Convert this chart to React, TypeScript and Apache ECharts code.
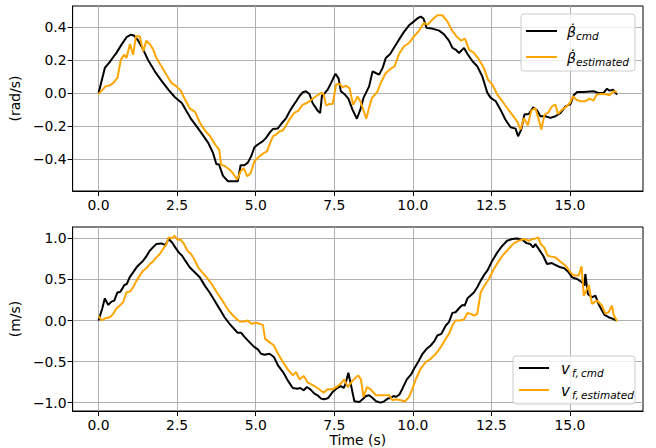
import React, { useEffect, useRef } from "react";
import * as echarts from "echarts";

// time (s), value (rad/s)
const betaCmd: number[][] = [
  [0, 0], [0.2, 0.154], [0.36, 0.19], [0.47, 0.22], [0.57, 0.245], [0.73, 0.295], [0.89, 0.34], [1.03, 0.355], [1.13, 0.35], [1.26, 0.32],
  [1.42, 0.265], [1.58, 0.2], [1.79, 0.133], [2.0, 0.077], [2.22, 0.022], [2.43, -0.024], [2.65, -0.059], [2.8, -0.109], [2.96, -0.16], [3.12, -0.2],
  [3.27, -0.24], [3.49, -0.3], [3.64, -0.36], [3.75, -0.43], [3.83, -0.43], [3.96, -0.5], [4.12, -0.533], [4.27, -0.533], [4.43, -0.533], [4.52, -0.436],
  [4.64, -0.436], [4.75, -0.42], [4.86, -0.38], [4.96, -0.327], [5.07, -0.31], [5.23, -0.29], [5.33, -0.27], [5.44, -0.24], [5.55, -0.216], [5.7, -0.214],
  [5.81, -0.186], [5.97, -0.15], [6.07, -0.113], [6.18, -0.079], [6.29, -0.048], [6.39, -0.018], [6.5, 0.006], [6.6, 0.012], [6.71, -0.004], [6.81, -0.059],
  [6.97, -0.105], [7.05, -0.12], [7.11, -0.012], [7.18, -0.004], [7.29, 0.022], [7.4, 0.063], [7.54, 0.119], [7.64, 0.089], [7.71, 0.012], [7.82, -0.004],
  [7.95, -0.032], [8.08, -0.099], [8.22, -0.154], [8.33, -0.099], [8.43, -0.028], [8.61, 0.042], [8.72, 0.133], [8.82, 0.123], [8.93, 0.113], [9.04, 0.154],
  [9.14, 0.214], [9.28, 0.238], [9.41, 0.279], [9.56, 0.325], [9.72, 0.372], [9.88, 0.412], [10.04, 0.436], [10.17, 0.457], [10.25, 0.465], [10.34, 0.453],
  [10.44, 0.396], [10.62, 0.392], [10.84, 0.38], [11.0, 0.356], [11.15, 0.319], [11.26, 0.275], [11.36, 0.265], [11.47, 0.244], [11.63, 0.275], [11.74, 0.238],
  [11.9, 0.194], [12.05, 0.164], [12.21, 0.103], [12.37, 0.004], [12.48, -0.028], [12.64, -0.048], [12.79, -0.099], [12.95, -0.16], [13.11, -0.206], [13.27, -0.214],
  [13.35, -0.26], [13.45, -0.22], [13.55, -0.129], [13.69, -0.125], [13.83, -0.085], [13.96, -0.105], [14.06, -0.139], [14.22, -0.139], [14.38, -0.149], [14.54, -0.139],
  [14.7, -0.119], [14.86, -0.079], [15.02, -0.065], [15.12, -0.012], [15.23, 0.008], [15.44, 0.008], [15.75, 0.012], [15.91, 0.002], [16.07, 0.002], [16.18, 0.028],
  [16.26, 0.016], [16.37, 0.022], [16.5, -0.008],
];

const betaEst: number[][] = [
  [0, -0.004], [0.1, 0.016], [0.22, 0.042], [0.36, 0.048], [0.47, 0.063], [0.6, 0.093], [0.71, 0.204], [0.82, 0.234], [0.89, 0.214], [1.0, 0.299],
  [1.1, 0.234], [1.19, 0.345], [1.31, 0.345], [1.42, 0.255], [1.52, 0.319], [1.63, 0.299], [1.74, 0.265], [1.84, 0.214], [2.0, 0.164], [2.16, 0.113],
  [2.32, 0.063], [2.48, 0.042], [2.62, 0.016], [2.75, -0.038], [2.91, -0.093], [3.07, -0.113], [3.23, -0.18], [3.39, -0.226], [3.55, -0.26], [3.71, -0.311],
  [3.84, -0.341], [3.9, -0.432], [4.03, -0.442], [4.17, -0.463], [4.27, -0.483], [4.41, -0.523], [4.52, -0.473], [4.62, -0.453], [4.73, -0.503], [4.84, -0.483],
  [4.96, -0.412], [5.12, -0.382], [5.26, -0.362], [5.36, -0.352], [5.44, -0.311], [5.55, -0.26], [5.65, -0.25], [5.76, -0.23], [5.86, -0.226], [5.97, -0.194],
  [6.07, -0.16], [6.23, -0.119], [6.36, -0.105], [6.5, -0.069], [6.63, -0.059], [6.78, -0.038], [6.92, -0.018], [7.08, 0.002], [7.16, -0.004], [7.24, -0.073],
  [7.35, -0.065], [7.45, -0.065], [7.56, 0.053], [7.67, 0.057], [7.77, 0.036], [7.88, 0.046], [7.99, 0.03], [8.1, -0.07], [8.24, -0.02], [8.33, -0.048],
  [8.52, -0.154], [8.62, -0.079], [8.7, -0.028], [8.87, 0.008], [8.98, 0.063], [9.14, 0.123], [9.3, 0.149], [9.42, 0.164], [9.56, 0.238], [9.72, 0.285],
  [9.88, 0.305], [10.04, 0.345], [10.2, 0.38], [10.35, 0.426], [10.48, 0.416], [10.62, 0.446], [10.78, 0.473], [10.94, 0.473], [11.1, 0.436], [11.23, 0.386],
  [11.39, 0.345], [11.54, 0.319], [11.66, 0.331], [11.79, 0.265], [11.95, 0.244], [12.11, 0.204], [12.26, 0.154], [12.39, 0.083], [12.53, 0.053], [12.69, -0.008],
  [12.85, -0.048], [13.0, -0.089], [13.16, -0.129], [13.32, -0.17], [13.43, -0.22], [13.53, -0.149], [13.66, -0.194], [13.77, -0.105], [13.9, -0.089], [14.01, -0.16],
  [14.09, -0.22], [14.19, -0.129], [14.3, -0.119], [14.43, -0.079], [14.54, -0.069], [14.62, -0.125], [14.75, -0.099], [14.86, -0.085], [15.0, -0.059], [15.1, -0.018],
  [15.2, -0.038], [15.33, -0.048], [15.49, -0.048], [15.63, -0.032], [15.75, -0.044], [15.85, -0.008], [15.98, -0.004], [16.12, -0.004], [16.26, -0.012], [16.39, 0.012],
  [16.5, 0.008],
];

// time (s), value (m/s)
const vCmd: number[][] = [
  [0, 0], [0.12, 0.15], [0.2, 0.27], [0.31, 0.19], [0.41, 0.23], [0.5, 0.243], [0.6, 0.344], [0.68, 0.344], [0.75, 0.385], [0.82, 0.433],
  [0.9, 0.445], [0.99, 0.526], [1.1, 0.587], [1.21, 0.648], [1.31, 0.688], [1.42, 0.729], [1.52, 0.781], [1.63, 0.85], [1.73, 0.891], [1.84, 0.931],
  [2.0, 0.939], [2.13, 0.919], [2.23, 0.992], [2.34, 0.951], [2.44, 0.891], [2.55, 0.83], [2.66, 0.789], [2.76, 0.729], [2.9, 0.648], [3.06, 0.587],
  [3.22, 0.526], [3.38, 0.425], [3.53, 0.344], [3.69, 0.243], [3.85, 0.142], [4.01, 0.04], [4.17, -0.04], [4.33, -0.109], [4.43, -0.15], [4.54, -0.15],
  [4.65, -0.202], [4.8, -0.263], [4.96, -0.324], [5.07, -0.352], [5.17, -0.405], [5.28, -0.417], [5.44, -0.405], [5.58, -0.445], [5.71, -0.547], [5.87, -0.628],
  [6.02, -0.729], [6.18, -0.822], [6.32, -0.83], [6.42, -0.822], [6.53, -0.85], [6.63, -0.81], [6.74, -0.838], [6.87, -0.891], [6.97, -0.911], [7.08, -0.951],
  [7.18, -0.96], [7.31, -0.943], [7.45, -0.87], [7.59, -0.822], [7.71, -0.798], [7.8, -0.822], [7.85, -0.781], [7.95, -0.636], [8.03, -0.781], [8.14, -0.984],
  [8.3, -0.992], [8.4, -0.96], [8.51, -0.919], [8.61, -0.911], [8.72, -0.943], [8.83, -0.984], [8.98, -1.0], [9.09, -0.984], [9.2, -0.951], [9.3, -0.943],
  [9.39, -0.919], [9.46, -0.931], [9.57, -0.903], [9.67, -0.83], [9.81, -0.717], [9.94, -0.66], [10.04, -0.587], [10.17, -0.506], [10.31, -0.405], [10.44, -0.344],
  [10.57, -0.304], [10.68, -0.255], [10.78, -0.182], [10.91, -0.162], [11.05, -0.061], [11.15, -0.02], [11.26, 0.093], [11.36, 0.101], [11.5, 0.162], [11.58, 0.19],
  [11.65, 0.182], [11.74, 0.271], [11.84, 0.304], [11.95, 0.344], [12.05, 0.405], [12.16, 0.486], [12.27, 0.555], [12.37, 0.607], [12.53, 0.729], [12.69, 0.83],
  [12.85, 0.911], [13.0, 0.972], [13.16, 0.992], [13.32, 1.0], [13.48, 0.984], [13.62, 0.943], [13.74, 0.931], [13.83, 0.891], [13.9, 0.931], [14.01, 0.87],
  [14.15, 0.789], [14.27, 0.688], [14.43, 0.7], [14.54, 0.676], [14.7, 0.648], [14.82, 0.636], [14.96, 0.587], [15.07, 0.526], [15.23, 0.506], [15.38, 0.466],
  [15.46, 0.425], [15.49, 0.567], [15.57, 0.324], [15.7, 0.283], [15.81, 0.304], [15.91, 0.202], [16.02, 0.121], [16.1, 0.069], [16.23, 0.04], [16.37, 0.02],
  [16.48, 0.0],
];

const vEst: number[][] = [
  [0, 0.053], [0.1, 0.0], [0.22, 0.028], [0.36, 0.04], [0.47, 0.081], [0.57, 0.15], [0.68, 0.182], [0.78, 0.223], [0.89, 0.344], [1.0, 0.352],
  [1.1, 0.405], [1.21, 0.486], [1.31, 0.547], [1.42, 0.607], [1.52, 0.636], [1.63, 0.688], [1.73, 0.717], [1.84, 0.769], [1.95, 0.81], [2.05, 0.87],
  [2.16, 0.931], [2.23, 1.012], [2.34, 1.0], [2.42, 1.032], [2.51, 0.984], [2.62, 0.984], [2.72, 0.931], [2.83, 0.85], [2.94, 0.81], [3.04, 0.749],
  [3.17, 0.648], [3.3, 0.587], [3.44, 0.526], [3.6, 0.445], [3.76, 0.344], [3.92, 0.255], [4.07, 0.162], [4.17, 0.109], [4.33, 0.04], [4.49, -0.012],
  [4.65, -0.012], [4.75, 0.0], [4.86, -0.04], [5.02, -0.028], [5.12, -0.04], [5.23, -0.053], [5.3, -0.223], [5.44, -0.263], [5.58, -0.304], [5.71, -0.405],
  [5.87, -0.506], [6.02, -0.595], [6.18, -0.668], [6.29, -0.628], [6.39, -0.717], [6.53, -0.676], [6.66, -0.757], [6.79, -0.781], [6.92, -0.81], [7.06, -0.85],
  [7.16, -0.879], [7.29, -0.838], [7.45, -0.838], [7.61, -0.798], [7.71, -0.769], [7.82, -0.717], [7.93, -0.81], [8.09, -0.729], [8.26, -0.668], [8.35, -0.717],
  [8.43, -0.931], [8.54, -0.81], [8.66, -0.838], [8.83, -0.911], [8.98, -0.911], [9.14, -0.911], [9.25, -0.911], [9.35, -0.972], [9.46, -0.96], [9.62, -0.972],
  [9.75, -0.984], [9.88, -0.931], [9.99, -0.83], [10.1, -0.709], [10.25, -0.587], [10.41, -0.506], [10.57, -0.466], [10.73, -0.405], [10.89, -0.324], [11.05, -0.223],
  [11.15, -0.162], [11.26, -0.061], [11.36, 0.0], [11.5, 0.0], [11.63, 0.012], [11.74, 0.093], [11.84, 0.081], [11.95, 0.061], [12.05, 0.081], [12.16, 0.344],
  [12.27, 0.417], [12.42, 0.506], [12.58, 0.628], [12.74, 0.729], [12.9, 0.81], [13.06, 0.879], [13.22, 0.943], [13.38, 0.972], [13.54, 0.992], [13.7, 0.972],
  [13.81, 0.992], [13.91, 1.0], [13.99, 1.012], [14.07, 0.931], [14.18, 0.891], [14.29, 0.789], [14.38, 0.781], [14.54, 0.769], [14.7, 0.717], [14.86, 0.668],
  [15.02, 0.587], [15.12, 0.547], [15.28, 0.547], [15.37, 0.66], [15.44, 0.304], [15.6, 0.433], [15.7, 0.202], [15.86, 0.243], [16.02, 0.182], [16.13, 0.081],
  [16.23, 0.101], [16.34, 0.182], [16.39, 0.069], [16.5, -0.008],
];

const xTicks = [0, 2.5, 5, 7.5, 10, 12.5, 15];
const yTicksTop = [-0.4, -0.2, 0, 0.2, 0.4];
const yTicksBottom = [-1, -0.5, 0, 0.5, 1];

const FONT = "DejaVu Sans";
const fmt = (v: number) => v.toFixed(1).replace("-", "\u2212");

function xAxis(gridIndex: number, name: string) {
  return {
    type: "value" as const,
    gridIndex,
    min: -0.825,
    max: 17.325,
    name,
    nameLocation: "middle" as const,
    nameGap: 22,
    nameTextStyle: { fontFamily: FONT, fontSize: 13.9, color: "#000" },
    axisLine: { show: true, onZero: false, lineStyle: { color: "#000", width: 1 } },
    axisTick: { show: true, length: 5, customValues: xTicks, lineStyle: { color: "#000", width: 1 } },
    axisLabel: { customValues: xTicks, formatter: fmt, fontFamily: FONT, fontSize: 13.9, color: "#000", margin: 7 },
    splitLine: { show: true, lineStyle: { color: "#b0b0b0", width: 1 } },
  };
}

function yAxis(gridIndex: number, min: number, max: number, ticks: number[], name: string) {
  return {
    type: "value" as const,
    gridIndex,
    min,
    max,
    name,
    nameLocation: "middle" as const,
    nameGap: 41,
    nameRotate: 90,
    nameTextStyle: { fontFamily: FONT, fontSize: 13.9, color: "#000" },
    axisLine: { show: true, onZero: false, lineStyle: { color: "#000", width: 1 } },
    axisTick: { show: true, length: 5, customValues: ticks, lineStyle: { color: "#000", width: 1 } },
    axisLabel: { customValues: ticks, formatter: fmt, fontFamily: FONT, fontSize: 13.9, color: "#000", margin: 6 },
    splitLine: { show: true, lineStyle: { color: "#b0b0b0", width: 1 } },
  };
}

function lineSeries(name: string, data: number[][], color: string, idx: number) {
  return {
    type: "line" as const,
    name,
    data,
    xAxisIndex: idx,
    yAxisIndex: idx,
    showSymbol: false,
    symbol: "none",
    lineStyle: { color, width: 2 },
    itemStyle: { color },
  };
}

function legendText(x: number, y: number, text: string, size: number) {
  return {
    type: "text",
    x,
    y,
    style: {
      text,
      fontFamily: FONT,
      fontStyle: "italic",
      fontSize: size,
      fill: "#000",
      align: "left",
      verticalAlign: "middle",
      textAlign: "left",
      textVerticalAlign: "middle",
    },
  };
}

function legendLine(x1: number, x2: number, y: number, color: string) {
  return {
    type: "line",
    shape: { x1, y1: y, x2, y2: y },
    style: { stroke: color, lineWidth: 2 },
  };
}

export default function App() {
  const ref = useRef<HTMLDivElement>(null);
  useEffect(() => {
    if (!ref.current) return;
    const chart = echarts.init(ref.current, null, { renderer: "svg" });
    chart.setOption({
      animation: false,
      backgroundColor: "#fff",
      grid: [
        { left: 72, right: 13, top: 6, height: 185, show: true, borderColor: "#000", borderWidth: 1, backgroundColor: "transparent" },
        { left: 72, right: 13, top: 227, height: 185, show: true, borderColor: "#000", borderWidth: 1, backgroundColor: "transparent" },
      ],
      xAxis: [xAxis(0, ""), xAxis(1, "Time (s)")],
      yAxis: [
        yAxis(0, -0.592, 0.529, yTicksTop, "(rad/s)"),
        yAxis(1, -1.102, 1.139, yTicksBottom, "(m/s)"),
      ],
      series: [
        lineSeries("beta_cmd", betaCmd, "#000000", 0),
        lineSeries("beta_estimated", betaEst, "#ffa500", 0),
        lineSeries("v_cmd", vCmd, "#000000", 1),
        lineSeries("v_estimated", vEst, "#ffa500", 1),
      ],
      graphic: [
        {
          type: "rect",
          shape: { x: 521, y: 14, width: 114, height: 57, r: 3 },
          style: { fill: "rgba(255,255,255,0.8)", stroke: "#cccccc", lineWidth: 1 },
          z: 100,
        },
        { ...legendLine(526, 557, 31, "#000000"), z: 101 },
        { ...legendLine(526, 557, 57, "#ffa500"), z: 101 },
        { ...legendText(567, 32, "\u03b2\u0307", 14), z: 101 },
        { ...legendText(576, 36, "cmd", 10.5), z: 101 },
        { ...legendText(567, 58, "\u03b2\u0307", 14), z: 101 },
        { ...legendText(576, 62, "estimated", 10.5), z: 101 },
        {
          type: "rect",
          shape: { x: 513, y: 356, width: 122, height: 48, r: 3 },
          style: { fill: "rgba(255,255,255,0.8)", stroke: "#cccccc", lineWidth: 1 },
          z: 100,
        },
        { ...legendLine(519, 549, 368, "#000000"), z: 101 },
        { ...legendLine(519, 549, 390, "#ffa500"), z: 101 },
        { ...legendText(561, 369, "v", 15), z: 101 },
        { ...legendText(572, 373, "f,\u2009cmd", 10.5), z: 101 },
        { ...legendText(561, 391, "v", 15), z: 101 },
        { ...legendText(572, 395, "f,\u2009estimated", 10.5), z: 101 },
      ],
    });
    return () => chart.dispose();
  }, []);
  return <div ref={ref} style={{ position: "absolute", left: 0, top: 0, width: 656, height: 448 }} />;
}
